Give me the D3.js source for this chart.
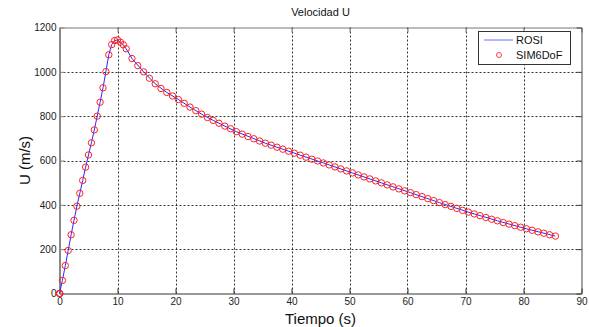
<!DOCTYPE html>
<html>
<head>
<meta charset="utf-8">
<script src="https://cdn.jsdelivr.net/npm/d3@7"></script>
<style>
  body { margin: 0; background: #fff; }
  svg { font-family: Arial, "Liberation Sans", sans-serif; }
</style>
</head>
<body>
<svg id="chart" width="589" height="327"></svg>
<script>
// SIM6DoF samples (red circles)
const simTime = [0, 0.03, 0.06, 0.5, 1.0, 1.5, 2.0, 2.5, 3.0, 3.5, 4.0, 4.5, 5.0, 5.5, 6.0, 6.5, 7.0, 7.5, 8.0, 8.5, 9.0, 9.5, 10.0, 10.5, 11.0, 11.5,
  12.5, 13.5, 14.5, 15.5, 16.5, 17.5, 18.5, 19.5, 20.5, 21.5, 22.5, 23.5, 24.5, 25.5, 26.5, 27.5, 28.5, 29.5,
  30.5, 31.5, 32.5, 33.5, 34.5, 35.5, 36.5, 37.5, 38.5, 39.5, 40.5, 41.5, 42.5, 43.5, 44.5, 45.5, 46.5, 47.5, 48.5, 49.5,
  50.5, 51.5, 52.5, 53.5, 54.5, 55.5, 56.5, 57.5, 58.5, 59.5, 60.5, 61.5, 62.5, 63.5, 64.5, 65.5, 66.5, 67.5, 68.5, 69.5,
  70.5, 71.5, 72.5, 73.5, 74.5, 75.5, 76.5, 77.5, 78.5, 79.5, 80.5, 81.5, 82.5, 83.5, 84.5, 85.5];
const simU = [0, 0, 0, 59, 126, 194, 265, 330, 394, 452, 510, 570, 625, 680, 738, 800, 863, 928, 1001, 1077, 1123, 1141, 1144, 1134, 1122, 1104,
  1060, 1028, 1000, 971, 946, 925, 907, 891, 875, 858, 841, 825, 809, 794, 781, 768, 755, 743,
  730, 719, 708, 698, 688, 678, 669, 660, 651, 642, 633, 624, 615, 606, 598, 589, 580, 571, 562, 553,
  544, 535, 526, 517, 508, 499, 490, 481, 472, 463, 455, 446, 437, 428, 419, 410, 401, 393, 384, 375,
  367, 359, 351, 343, 335, 328, 320, 313, 306, 299, 292, 285, 278, 272, 265, 259];

// ROSI curve (blue line)
const rosiTime = [0, 0.5, 1.0, 1.5, 2.0, 2.5, 3.0, 3.5, 4.0, 4.5, 5.0, 5.5, 6.0, 6.5, 7.0, 7.5, 8.0, 8.5, 9.0, 9.5, 10.0, 10.5, 11.0, 11.5,
  12.5, 14.5, 16.5, 18.5, 20.5, 22.5, 24.5, 26.5, 28.5, 30.5, 35.5, 40.5, 45.5, 50.5, 55.5, 60.5, 65.5, 70.5, 75.5, 80.5, 85.5];
const rosiU = [0, 59, 126, 194, 265, 330, 394, 452, 510, 570, 625, 680, 738, 800, 863, 928, 1001, 1077, 1123, 1141, 1144, 1134, 1122, 1104,
  1060, 1000, 946, 907, 875, 841, 809, 781, 755, 730, 678, 633, 589, 544, 499, 455, 410, 367, 328, 292, 259];

const xTicks = [0, 10, 20, 30, 40, 50, 60, 70, 80, 90];
const yTicks = [0, 200, 400, 600, 800, 1000, 1200];

const plotLeft = 59.5, plotRight = 581.5, plotTop = 27.5, plotBottom = 293.5;

const svg = d3.select('#chart');

const x = d3.scaleLinear().domain([0, 90]).range([plotLeft, plotRight]);
const y = d3.scaleLinear().domain([0, 1200]).range([plotBottom, plotTop]);

// grid
const grid = svg.append('g')
  .attr('stroke', '#333')
  .attr('stroke-dasharray', '2,2')
  .attr('stroke-width', 1);
grid.selectAll('line.gx')
  .data(xTicks.slice(1, -1))
  .enter().append('line')
  .attr('x1', d => Math.round(x(d)) + 0.5).attr('x2', d => Math.round(x(d)) + 0.5)
  .attr('y1', plotTop).attr('y2', plotBottom);
grid.selectAll('line.gy')
  .data(yTicks.slice(1, -1))
  .enter().append('line')
  .attr('y1', d => Math.round(y(d)) + 0.5).attr('y2', d => Math.round(y(d)) + 0.5)
  .attr('x1', plotLeft).attr('x2', plotRight);

// axes (ticks inward, matlab style)
const xAxis = d3.axisBottom(x).tickValues(xTicks).tickFormat(d3.format('d'))
  .tickSizeInner(-5).tickSizeOuter(0).tickPadding(4);
const yAxis = d3.axisLeft(y).tickValues(yTicks).tickFormat(d3.format('d'))
  .tickSizeInner(-5).tickSizeOuter(0).tickPadding(3);
const xTop = d3.axisTop(x).tickValues(xTicks).tickSizeInner(-5).tickSizeOuter(0).tickFormat('');
const yRight = d3.axisRight(y).tickValues(yTicks).tickSizeInner(-5).tickSizeOuter(0).tickFormat('');

function styleAxis(g, col) {
  g.selectAll('path').attr('stroke', col);
  g.selectAll('line').attr('stroke', col);
  g.selectAll('text').attr('fill', '#222').style('font-size', '10px');
}

svg.append('g').attr('transform', `translate(0,${plotTop})`).call(xTop).call(g => styleAxis(g, '#777'));
svg.append('g').attr('transform', `translate(${plotRight},0)`).call(yRight).call(g => styleAxis(g, '#444'));
svg.append('g').attr('transform', `translate(0,${plotBottom})`).call(xAxis).call(g => styleAxis(g, '#333'));
svg.append('g').attr('transform', `translate(${plotLeft},0)`).call(yAxis)
  .call(g => styleAxis(g, '#888'))
  .call(g => g.select('path').attr('stroke-width', 2));

// ROSI line
const line = d3.line()
  .x((d, i) => x(rosiTime[i]))
  .y(d => y(d));
svg.append('path')
  .datum(rosiU)
  .attr('fill', 'none')
  .attr('stroke', '#2a2aff')
  .attr('stroke-width', 1)
  .attr('d', line);

// SIM6DoF circles
svg.append('g').selectAll('circle')
  .data(simU)
  .enter().append('circle')
  .attr('cx', (d, i) => x(simTime[i]))
  .attr('cy', d => y(d))
  .attr('r', 3.2)
  .attr('fill', 'none')
  .attr('stroke', '#ff2020')
  .attr('stroke-width', 1);

// title and labels
svg.append('text')
  .attr('x', (plotLeft + plotRight) / 2).attr('y', 16)
  .attr('text-anchor', 'middle')
  .style('font-size', '11px')
  .attr('fill', '#111')
  .text('Velocidad U');

svg.append('text')
  .attr('x', (plotLeft + plotRight) / 2).attr('y', 324)
  .attr('text-anchor', 'middle')
  .style('font-size', '15px')
  .attr('fill', '#111')
  .text('Tiempo (s)');

svg.append('text')
  .attr('transform', `translate(30,${(plotTop + plotBottom) / 2}) rotate(-90)`)
  .attr('text-anchor', 'middle')
  .style('font-size', '15px')
  .attr('fill', '#111')
  .text('U (m/s)');

// legend
const lg = svg.append('g');
lg.append('rect')
  .attr('x', 478.5).attr('y', 31.5).attr('width', 92).attr('height', 33)
  .attr('fill', '#fff').attr('stroke', '#333');
lg.append('line')
  .attr('x1', 484).attr('x2', 513).attr('y1', 40).attr('y2', 40)
  .attr('stroke', '#6f6fff');
lg.append('text').attr('x', 516).attr('y', 44).style('font-size', '11px').attr('fill', '#111').text('ROSI');
lg.append('circle')
  .attr('cx', 499).attr('cy', 55).attr('r', 2.5)
  .attr('fill', 'none').attr('stroke', '#ff4040');
lg.append('text').attr('x', 516).attr('y', 59).style('font-size', '11px').attr('fill', '#111').text('SIM6DoF');
</script>
</body>
</html>
